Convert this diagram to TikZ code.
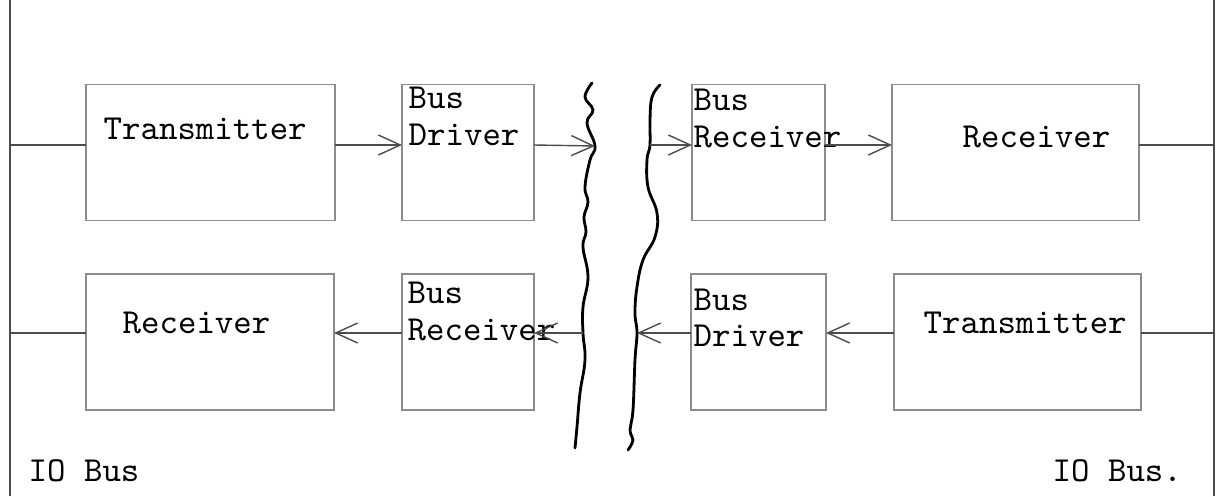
\documentclass[tikz,border=0pt]{standalone}
\usetikzlibrary{arrows.meta}
\begin{document}
\begin{tikzpicture}[
  blk/.style={draw=black!45, line width=0.35pt, inner sep=0pt, outer sep=0pt, minimum height=1.36cm},
  lbl/.style={font=\fontsize{10}{10.5}\selectfont\ttfamily, inner sep=0pt, align=left, anchor=base west},
  wire/.style={draw=black!70, line width=0.4pt},
  cut/.style={line width=0.8pt, line cap=round},
  >={Straight Barb[length=2.2mm,width=2mm]}]
\useasboundingbox (0,0) rectangle (12.17,4.96);

% IO bus lines on both sides
\coordinate (bus1) at (0.10,3.51);
\coordinate (bus2) at (0.10,1.63);
\coordinate (busR) at (12.14,0);
\draw[wire] (0.10,0) -- (0.10,4.96);
\draw[wire] (busR) -- (12.14,4.96);

% top row
\node[blk, minimum width=2.49cm] (tx1) at (2.105,3.435) {};
\node[blk, minimum width=1.32cm] (drv1) at (4.68,3.435) {};
\node[blk, minimum width=1.33cm] (rcv1) at (7.585,3.435) {};
\node[blk, minimum width=2.47cm] (rx1) at (10.155,3.435) {};

% bottom row
\node[blk, minimum width=2.48cm] (rx2) at (2.10,1.54) {};
\node[blk, minimum width=1.32cm] (rcv2) at (4.68,1.54) {};
\node[blk, minimum width=1.35cm] (drv2) at (7.585,1.54) {};
\node[blk, minimum width=2.47cm] (tx2) at (10.175,1.54) {};

% texts (two-line ones sit on their last line)
\node[lbl] (tx1t) at (1.03,3.56) {Transmitter};
\node[lbl] (drv1t) at (4.08,3.51) {Bus\\Driver};
\node[lbl] (rcv1t) at (6.93,3.49) {Bus\\Receiver};
\node[lbl] (rx1t) at (9.62,3.49) {Receiver};
\node[lbl] (rx2t) at (1.22,1.63) {Receiver};
\node[lbl] (rcv2t) at (4.07,1.56) {Bus\\Receiver};
\node[lbl] (drv2t) at (6.93,1.49) {Bus\\Driver};
\node[lbl] (tx2t) at (9.23,1.63) {Transmitter};
\node[lbl] (io1) at (0.28,0.14) {IO Bus};
\node[lbl] (io2) at (10.52,0.14) {IO Bus.};

% the cut in the cable
\coordinate (cutL1) at (5.95,3.50);
\coordinate (cutL2) at (5.83,1.63);
\coordinate (cutR1) at (6.50,3.51);
\coordinate (cutR2) at (6.37,1.63);
\draw[cut] plot[smooth, tension=0.7] coordinates {(5.92,4.13) (5.85,3.99) (5.93,3.86) (5.87,3.73) (5.95,3.50) (5.90,3.36) (5.85,3.09) (5.88,2.94) (5.84,2.79) (5.86,2.64) (5.83,2.49) (5.88,2.19) (5.83,1.89) (5.83,1.63) (5.85,1.36) (5.80,1.03) (5.77,0.69) (5.75,0.48)};
\draw[cut] plot[smooth, tension=0.7] coordinates {(6.60,4.11) (6.52,3.99) (6.50,3.76) (6.50,3.51) (6.47,3.36) (6.48,3.09) (6.57,2.83) (6.55,2.59) (6.43,2.36) (6.37,2.09) (6.35,1.83) (6.37,1.63) (6.35,1.36) (6.33,0.86) (6.30,0.66) (6.33,0.56) (6.28,0.46)};

% top row connections
\draw[wire] (bus1) -- (tx1.west |- bus1);
\draw[wire,->] (tx1.east |- bus1) -- (drv1.west |- bus1);
\draw[wire,->] (drv1.east |- bus1) -- (cutL1);
\draw[wire,->] (cutR1) -- (rcv1.west |- bus1);
\draw[wire,->] (rcv1.east |- bus1) -- (rx1.west |- bus1);
\draw[wire] (rx1.east |- bus1) -- (busR |- bus1);

% bottom row connections
\draw[wire] (busR |- bus2) -- (tx2.east |- bus2);
\draw[wire,->] (tx2.west |- bus2) -- (drv2.east |- bus2);
\draw[wire,->] (drv2.west |- bus2) -- (cutR2);
\draw[wire,->] (cutL2) -- (rcv2.east |- bus2);
\draw[wire,->] (rcv2.west |- bus2) -- (rx2.east |- bus2);
\draw[wire] (rx2.west |- bus2) -- (bus2);

\end{tikzpicture}
\end{document}
